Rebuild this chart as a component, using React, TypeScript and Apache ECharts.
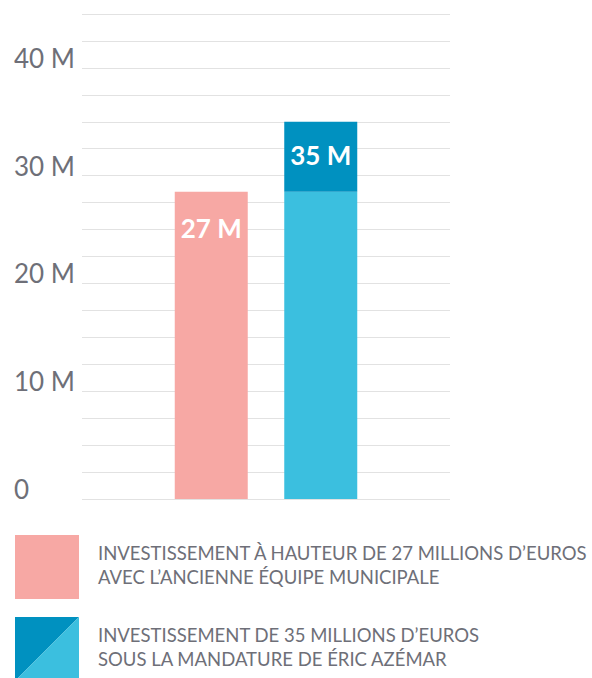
import React, { useEffect, useRef } from "react";
import * as echarts from "echarts";

const categories = [""];
const previousTeam = [28.5];
const currentBase = [28.5];
const currentExtra = [6.5];
const previousLabels = ["27 M"];
const currentLabels = ["35 M"];
const yTickLabels: Record<number, string> = { 0: "0", 10: "10 M", 20: "20 M", 30: "30 M", 40: "40 M" };
const legendTexts = [
  "INVESTISSEMENT À HAUTEUR DE 27 MILLIONS D’EUROS\nAVEC L’ANCIENNE ÉQUIPE MUNICIPALE",
  "INVESTISSEMENT DE 35 MILLIONS D’EUROS\nSOUS LA MANDATURE DE ÉRIC AZÉMAR",
];

const PINK = "#f7a8a4";
const LIGHT = "#3bbfdf";
const DARK = "#0091c0";
const GREY = "#6e6f78";
const FONT = "Lato, 'Open Sans', sans-serif";

export default function App() {
  const ref = useRef<HTMLDivElement>(null);
  useEffect(() => {
    if (!ref.current) return;
    const chart = echarts.init(ref.current, undefined, { renderer: "svg" });
    chart.setOption({
      animation: false,
      grid: { left: 82, right: 142, top: 14, bottom: 179 },
      xAxis: {
        type: "category",
        data: categories,
        axisLine: { show: false },
        axisTick: { show: false },
        axisLabel: { show: false },
      },
      yAxis: {
        type: "value",
        min: 0,
        max: 45,
        interval: 2.5,
        axisLine: { show: false },
        axisTick: { show: false },
        splitLine: { lineStyle: { color: "#e2e2e2", width: 1 } },
        axisLabel: {
          formatter: (v: number) => yTickLabels[v] ?? "",
          align: "left",
          margin: 68,
          verticalAlign: "bottom",
          lineHeight: 20,
          fontFamily: FONT,
          fontSize: 26,
          color: GREY,
        },
      },
      series: [
        {
          type: "bar",
          stack: "old",
          barWidth: 73,
          barGap: "50%",
          data: previousTeam,
          itemStyle: { color: PINK },
          label: {
            show: true,
            position: "insideTop",
            distance: 23,
            formatter: (p: any) => previousLabels[p.dataIndex],
            color: "#fff",
            fontFamily: FONT,
            fontWeight: "bold",
            fontSize: 26,
          },
        },
        {
          type: "bar",
          stack: "new",
          barWidth: 73,
          data: currentBase,
          itemStyle: { color: LIGHT },
        },
        {
          type: "bar",
          stack: "new",
          barWidth: 73,
          data: currentExtra,
          itemStyle: { color: DARK },
          label: {
            show: true,
            position: "inside",
            offset: [0, -2],
            formatter: (p: any) => currentLabels[p.dataIndex],
            color: "#fff",
            fontFamily: FONT,
            fontWeight: "bold",
            fontSize: 26,
          },
        },
      ],
      graphic: [
        { type: "rect", shape: { x: 15, y: 535, width: 64, height: 64 }, style: { fill: PINK } },
        { type: "polygon", shape: { points: [[15, 617], [79, 617], [15, 681]] }, style: { fill: DARK } },
        { type: "polygon", shape: { points: [[79, 617], [79, 681], [15, 681]] }, style: { fill: LIGHT } },
        {
          type: "text",
          x: 98,
          y: 541,
          style: {
            text: legendTexts[0],
            fontFamily: FONT,
            fontSize: 18.5,
            lineHeight: 24,
            fill: GREY,
            verticalAlign: "top",
          },
        },
        {
          type: "text",
          x: 98,
          y: 623,
          style: {
            text: legendTexts[1],
            fontFamily: FONT,
            fontSize: 18.5,
            lineHeight: 24,
            fill: GREY,
            verticalAlign: "top",
          },
        },
      ],
    });
    return () => chart.dispose();
  }, []);
  return (
    <div
      ref={ref}
      style={{ position: "fixed", left: 0, top: 0, width: 592, height: 678, background: "#fff" }}
    />
  );
}
